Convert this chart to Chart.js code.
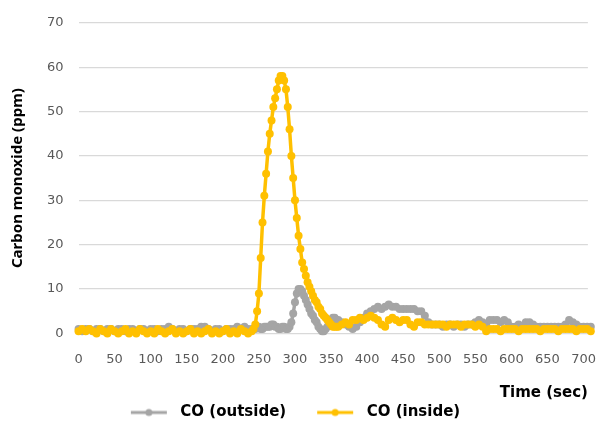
<!DOCTYPE html>
<html>
<head>
<meta charset="utf-8">
<script src="https://cdn.jsdelivr.net/npm/chart.js@4"></script>
<style>
  html, body { margin: 0; padding: 0; background: #fff; }
  #wrap { width: 606px; height: 430px; }
</style>
</head>
<body>
<div id="wrap"><canvas id="myChart" width="606" height="430"></canvas></div>
<script>
// time in seconds (every 5 s, every 2.5 s around the peak)
const times = [
  0, 5, 10, 15, 20, 25, 30, 35, 40, 45, 50, 55, 60, 65, 70, 75, 80, 85, 90, 95,
  100, 105, 110, 115, 120, 125, 130, 135, 140, 145, 150, 155, 160, 165, 170, 175, 180, 185, 190, 195,
  200, 205, 210, 215, 220, 225, 230, 235,
  240, 242.5, 245, 247.5, 250, 252.5, 255, 257.5, 260, 262.5,
  265, 267.5, 270, 272.5, 275, 277.5, 280, 282.5, 285, 287.5,
  290, 292.5, 295, 297.5, 300, 302.5, 305, 307.5, 310, 312.5,
  315, 317.5, 320, 322.5, 325, 327.5, 330, 332.5, 335, 337.5,
  340, 342.5, 345, 347.5, 350, 352.5, 355, 357.5, 360,
  365, 370, 375, 380, 385, 390, 395,
  400, 405, 410, 415, 420, 425, 430, 435, 440, 445, 450, 455, 460, 465, 470, 475, 480, 485, 490, 495,
  500, 505, 510, 515, 520, 525, 530, 535, 540, 545, 550, 555, 560, 565, 570, 575, 580, 585, 590, 595,
  600, 605, 610, 615, 620, 625, 630, 635, 640, 645, 650, 655, 660, 665, 670, 675, 680, 685, 690, 695,
  700, 705, 710, 715
];

// CO (outside), ppm
const coOutside = [
  1, 0.5, 1, 1, 0.5, 1, 1, 0.5, 1, 1, 0.5, 1, 1, 0.5, 1, 1, 0.5, 1, 1, 0.5,
  1, 1, 0.5, 1, 1, 1.5, 1, 0.5, 1, 1, 0.5, 1, 1, 1, 1.5, 1.5, 1, 0.5, 1, 1,
  0.5, 1, 1, 1, 1.5, 1, 1.5, 1,
  1, 1, 1, 1.5, 1.5, 1, 1, 1.5, 1.5, 1.5,
  1.5, 2, 2, 1.5, 1.5, 1, 1, 1.5, 1.5, 1,
  1, 1.5, 2.5, 4.5, 7, 9, 10, 10, 9.5, 8.5,
  7.5, 6.5, 5.5, 4.5, 4, 3, 2.5, 1.5, 1, 0.5,
  0.5, 1, 1.5, 2.5, 3, 3.5, 3.5, 3, 3,
  2.5, 2, 1.5, 1, 1.5, 2.5, 3.5,
  4.5, 5, 5.5, 6, 5.5, 6, 6.5, 6, 6, 5.5, 5.5, 5.5, 5.5, 5.5, 5, 5, 4, 2.5, 2, 2,
  2, 1.5, 2, 2, 1.5, 2, 2, 1.5, 2, 2, 2.5, 3, 2.5, 2, 3, 3, 3, 2.5, 3, 2.5,
  1.5, 1.5, 2, 1.5, 2.5, 2.5, 2, 1.5, 1.5, 1.5, 1.5, 1.5, 1.5, 1.5, 1.5, 2, 3, 2.5, 2, 1.5,
  1.5, 1.5, 1.5, 1.5
];

// CO (inside), ppm
const coInside = [
  0.5, 1, 0.5, 1, 0.5, 0, 1, 0.5, 0, 1, 0.5, 0, 0.5, 1, 0, 0.5, 0, 1, 0.5, 0,
  0.5, 0, 1, 0.5, 0, 0.5, 1, 0, 0.5, 0, 0.5, 1, 0, 0.5, 0, 0.5, 1, 0, 0.5, 0,
  0.5, 1, 0, 0.5, 0, 1, 0.5, 0,
  0.5, 1, 2, 5, 9, 17, 25, 31, 36, 41,
  45, 48, 51, 53, 55, 57, 58, 58, 57, 55,
  51, 46, 40, 35, 30, 26, 22, 19, 16, 14.5,
  13, 11.5, 10.5, 9.5, 8.5, 7.5, 7, 6, 5.5, 4.5,
  4, 3.5, 3, 2.5, 2, 1.5, 1.5, 1.5, 1.5,
  2, 2.5, 2, 3, 3, 3.5, 3,
  3.5, 4, 3.5, 3, 2, 1.5, 3, 3.5, 3, 2.5, 3, 3, 2, 1.5, 2.5, 2.5, 2, 2, 2, 2,
  2, 2, 1.5, 2, 2, 2, 1.5, 2, 2, 2, 1.5, 2, 1.5, 0.5, 1, 1, 1, 0.5, 1, 1,
  1, 1, 0.5, 1, 1, 1, 1, 1, 0.5, 1, 1, 1, 1, 0.5, 1, 1, 1, 1, 0.5, 1,
  1, 1, 0.5, 1
];

const xTicks = [0, 50, 100, 150, 200, 250, 300, 350, 400, 450, 500, 550, 600, 650, 700];
const yTicks = [0, 10, 20, 30, 40, 50, 60, 70];

const GREY = "#a5a5a5";
const GOLD = "#ffc000";

// legend icon: short line with a dot, blank on the left works as the gap between items
function legendIcon(color) {
  let c = document.createElement("canvas");
  c.width = 70;
  c.height = 10;
  let g = c.getContext("2d");
  g.strokeStyle = color;
  g.lineWidth = 3;
  g.beginPath();
  g.moveTo(28, 5);
  g.lineTo(64, 5);
  g.stroke();
  g.fillStyle = color;
  g.beginPath();
  g.arc(46, 5, 3.5, 0, Math.PI * 2);
  g.fill();
  return c;
}

// move the legend left so its visible part sits where the original one is
const legendShift = {
  id: "legendShift",
  afterLayout(chart) {
    chart.legend.left -= 26;
    chart.legend.right -= 26;
  },
};

const toPoints = (vals) => vals.map((v, i) => ({ x: times[i], y: v }));

let ctx = document.getElementById("myChart").getContext("2d");
let myChart = new Chart(ctx, {
  type: "line",
  data: {
    datasets: [
      {
        label: "CO (outside)",
        data: toPoints(coOutside),
        borderColor: GREY,
        backgroundColor: GREY,
        borderWidth: 3.5,
        pointRadius: 4,
        pointBorderWidth: 0,
        pointStyle: "circle",
        clip: false,
        order: 1,
      },
      {
        label: "CO (inside)",
        data: toPoints(coInside),
        borderColor: GOLD,
        backgroundColor: GOLD,
        borderWidth: 3.5,
        pointRadius: 4,
        pointBorderWidth: 0,
        pointStyle: "circle",
        clip: false,
        order: 0,
      },
    ],
  },
  plugins: [legendShift],
  options: {
    responsive: false,
    animation: false,
    layout: { padding: { top: 16, right: 0, left: 9, bottom: 0 } },
    scales: {
      x: {
        type: "linear",
        min: 0,
        max: 706,
        afterBuildTicks: (axis) => {
          axis.ticks = xTicks.map((v) => ({ value: v }));
        },
        grid: { display: false },
        border: { display: false },
        ticks: {
          color: "#595959",
          font: { family: "DejaVu Sans", size: 13 },
          padding: 10,
          maxRotation: 0,
          autoSkip: false,
        },
        title: {
          display: true,
          text: "Time (sec)",
          align: "end",
          color: "#000",
          font: { family: "DejaVu Sans", size: 15, weight: "bold" },
          padding: { top: 7, bottom: 0 },
        },
      },
      y: {
        min: 0,
        max: 70,
        afterBuildTicks: (axis) => {
          axis.ticks = yTicks.map((v) => ({ value: v }));
        },
        grid: { color: "#d9d9d9", lineWidth: 1.2, drawTicks: false },
        border: { display: false },
        ticks: {
          color: "#595959",
          font: { family: "DejaVu Sans", size: 13 },
          padding: 15,
        },
        title: {
          display: true,
          text: "Carbon monoxide (ppm)",
          color: "#000",
          font: { family: "Noto Sans", size: 15, weight: "bold" },
          padding: { top: 0, bottom: 5 },
        },
      },
    },
    plugins: {
      legend: {
        position: "bottom",
        labels: {
          usePointStyle: true,
          pointStyleWidth: 70,
          color: "#000",
          font: { family: "DejaVu Sans", size: 15, weight: "bold" },
          padding: 3,
          generateLabels: (chart) =>
            chart.data.datasets.map((ds, i) => ({
              text: ds.label,
              pointStyle: legendIcon(ds.borderColor),
              fillStyle: ds.borderColor,
              strokeStyle: ds.borderColor,
              lineWidth: 0,
              fontColor: "#000",
              datasetIndex: i,
              hidden: false,
            })),
        },
      },
      tooltip: { enabled: false },
    },
  },
});
</script>
</body>
</html>
